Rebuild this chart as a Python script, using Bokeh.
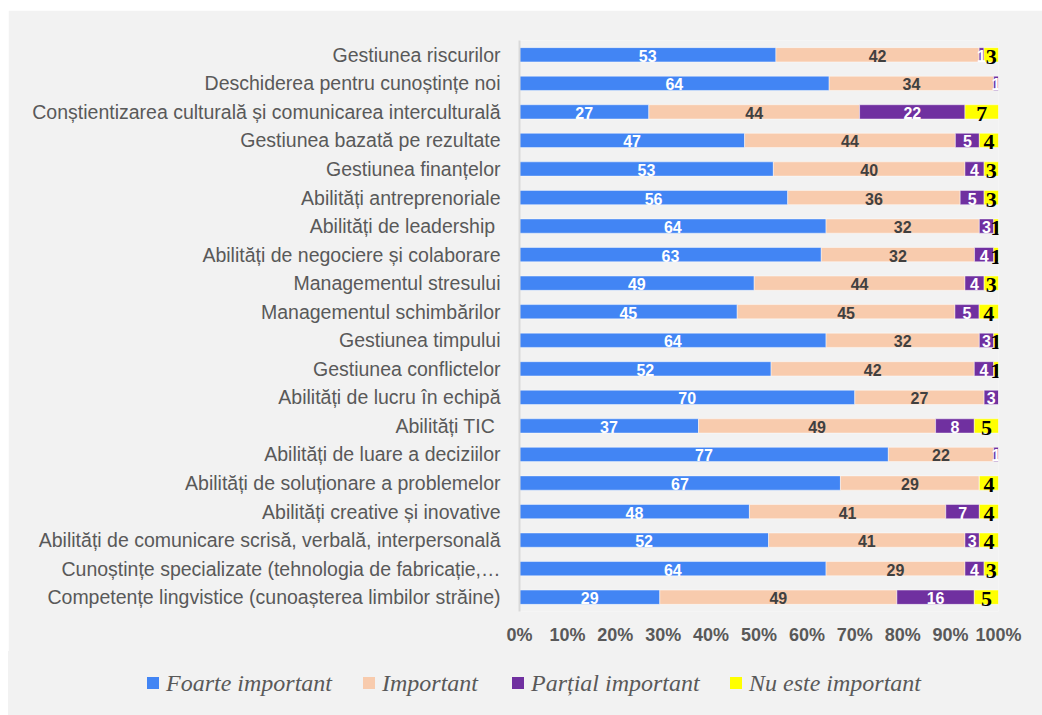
from bokeh.plotting import figure
from bokeh.layouts import column
from bokeh.models import (ColumnDataSource, Range1d, FactorRange, FixedTicker,
                          NumeralTickFormatter, Div)
from bokeh.core.properties import value
from bokeh.embed import file_html
from bokeh.resources import INLINE

categories = [
    "Gestiunea riscurilor",
    "Deschiderea pentru cunoștințe noi",
    "Conștientizarea culturală și comunicarea interculturală",
    "Gestiunea bazată pe rezultate",
    "Gestiunea finanțelor",
    "Abilități antreprenoriale",
    "Abilități de leadership ",
    "Abilități de negociere și colaborare",
    "Managementul stresului",
    "Managementul schimbărilor",
    "Gestiunea timpului",
    "Gestiunea conflictelor",
    "Abilități de lucru în echipă",
    "Abilități TIC ",
    "Abilități de luare a deciziilor",
    "Abilități de soluționare a problemelor",
    "Abilități creative și inovative",
    "Abilități de comunicare scrisă, verbală, interpersonală",
    "Cunoștințe specializate (tehnologia de fabricație,…",
    "Competențe lingvistice (cunoașterea limbilor străine)",
]
foarte = [53, 64, 27, 47, 53, 56, 64, 63, 49, 45, 64, 52, 70, 37, 77, 67, 48, 52, 64, 29]
important = [42, 34, 44, 44, 40, 36, 32, 32, 44, 45, 32, 42, 27, 49, 22, 29, 41, 41, 29, 49]
partial = [1, 1, 22, 5, 4, 5, 3, 4, 4, 5, 3, 4, 3, 8, 1, 0, 7, 3, 4, 16]
nu = [3, 0, 7, 4, 3, 3, 1, 1, 3, 4, 1, 1, 0, 5, 0, 4, 4, 4, 3, 5]
series_names = ["Foarte important", "Important", "Parțial important", "Nu este important"]
x_ticks = [0, 0.1, 0.2, 0.3, 0.4, 0.5, 0.6, 0.7, 0.8, 0.9, 1.0]

colors = ["#4285F4", "#F8CBAD", "#7030A0", "#FFFF00"]
label_colors = ["white", "#404040", "white", "black"]

series = [foarte, important, partial, nu]
totals = [sum(v) for v in zip(*series)]
keys = ["s0", "s1", "s2", "s3"]
data = {"cat": categories}
for k, s in zip(keys, series):
    data[k] = [v / t for v, t in zip(s, totals)]
source = ColumnDataSource(data)

BG = "#F2F2F2"
p = figure(frame_width=479, frame_height=571, output_backend="svg", toolbar_location=None,
           y_range=FactorRange(factors=list(reversed(categories))),
           x_range=Range1d(0, 1),
           min_border_left=511, min_border_right=44, min_border_top=30,
           min_border_bottom=40,
           background_fill_color=BG, border_fill_color=BG, outline_line_color=None)
p.xgrid.visible = False
p.ygrid.visible = False

renderers = p.hbar_stack(keys, y="cat", height=0.5, color=colors, source=source,
                         line_color="white", line_alpha=0.45, line_width=1)

# value labels
for i, (k, s) in enumerate(zip(keys, series)):
    xs, ys, txt = [], [], []
    for j, c in enumerate(categories):
        if s[j] == 0:
            continue
        left = sum(data[keys[m]][j] for m in range(i))
        xs.append(left + data[k][j] / 2)
        ys.append(c)
        txt.append(str(s[j]))
    ls = ColumnDataSource(dict(x=xs, y=ys, t=txt))
    if i == 3:
        p.text(x="x", y="y", text="t", source=ls, text_align="center",
               text_baseline="middle", text_color="black",
               text_font=value("Liberation Serif"), text_font_style="bold",
               text_font_size="22px", y_offset=2)
    else:
        p.text(x="x", y="y", text="t", source=ls, text_align="center",
               text_baseline="middle", text_color=label_colors[i],
               text_font=value("Liberation Sans"), text_font_style="bold",
               text_font_size="16px", y_offset=1)

p.xaxis.ticker = FixedTicker(ticks=x_ticks)
p.xaxis.formatter = NumeralTickFormatter(format="0%")
p.xaxis.axis_line_color = None
p.xaxis.major_tick_line_color = None
p.xaxis.minor_tick_line_color = None
p.xaxis.major_tick_out = 0
p.xaxis.minor_tick_out = 0
p.xaxis.major_label_standoff = 13
p.xaxis.major_label_text_font = "Liberation Sans"
p.xaxis.major_label_text_font_style = "bold"
p.xaxis.major_label_text_font_size = "18px"
p.xaxis.major_label_text_color = "#595959"

p.yaxis.axis_line_color = "#D9D9D9"
p.yaxis.axis_line_width = 2
p.yaxis.major_tick_line_color = None
p.yaxis.minor_tick_line_color = None
p.yaxis.major_tick_out = 0
p.yaxis.minor_tick_out = 0
p.yaxis.major_label_standoff = 19
p.yaxis.major_label_text_font = "Liberation Sans"
p.yaxis.major_label_text_font_size = "19.5px"
p.yaxis.major_label_text_color = "#595959"

# legend strip below the chart
LW, LH = 1034, 64
legend_x = [139, 355, 504, 722]
parts = ['<div style="position:relative;width:%dpx;height:%dpx;background:%s;">' % (LW, LH, BG)]
for lx, c, name in zip(legend_x, colors, series_names):
    parts.append('<span style="position:absolute;left:%dpx;top:26px;width:12px;height:12px;'
                 'background:%s;"></span>' % (lx, c))
    parts.append('<span style="position:absolute;left:%dpx;top:14px;line-height:36px;'
                 'white-space:nowrap;font-family:\'Liberation Serif\';font-style:italic;'
                 'font-size:24px;color:#595959;">%s</span>' % (lx + 19, name))
parts.append('</div>')
legend_div = Div(text="".join(parts), width=LW, height=LH, margin=0,
                 styles={"background-color": BG})

layout = column(p, legend_div, spacing=0,
                styles={"margin-left": "8px", "margin-top": "10px"})
open("out.html", "w", encoding="utf-8").write(file_html(layout, INLINE))
